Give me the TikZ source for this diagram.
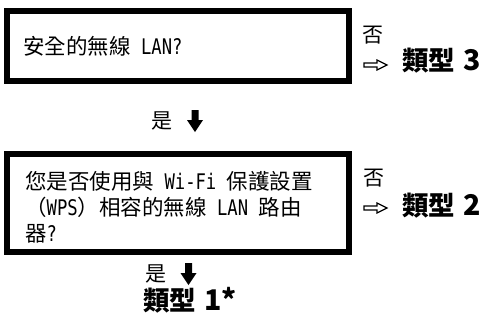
\documentclass[tikz,border=0pt]{standalone}
\usepackage{fontspec}
\setmainfont{Noto Sans CJK TC}
\newfontfamily\latfont[FakeStretch=0.8]{DejaVu Sans Mono}
\newcommand\lat[1]{{\latfont #1}}
\newcommand\digits[1]{\hspace{8pt}{\fontsize{28.5}{30}\selectfont #1}}
\begin{document}
\begin{tikzpicture}[x=1pt,y=-1pt,
  qbox/.style={draw,line width=6pt,minimum width=342pt,inner sep=0pt},
  qtext/.style={anchor=west,inner sep=0pt,align=left,font=\fontsize{21.5}{26}\selectfont},
  small/.style={anchor=west,inner sep=0pt,font=\fontsize{21}{22}\selectfont},
  result/.style={anchor=west,inner sep=0pt,font=\bfseries\fontsize{26.5}{28}\selectfont},
  whitearrow/.style={draw,line width=1.2pt,line join=miter},
  downarrow/.style={fill=black}]
\useasboundingbox (0,0) rectangle (480,322);
% question 1
\node[qbox,minimum height=70pt] (b1) at (178,46) {};
\node[qtext] (t1) at (23,46.5) {安全的無線\lat{ LAN?}};
\node[small] (n1) at (362,35) {否};
\coordinate (a1) at (364,65);
\draw[whitearrow] (a1) ++(0,-2) -- ++(13,0) -- ++(0,-3) -- ++(10,5) -- ++(-10,5) -- ++(0,-3) -- ++(-13,0) -- cycle;
\node[result] (r3) at (402,61) {類型\digits{3}};
% yes 1
\node[small] (y1) at (151,121) {是};
\coordinate (d1) at (195,110);
\fill[downarrow] (d1) ++(-3.5,0) -- ++(7,0) -- ++(0,10) -- ++(4.5,0) -- ++(-8,12) -- ++(-8,-12) -- ++(4.5,0) -- cycle;
% question 2
\node[qbox,minimum height=98pt] (b2) at (178,203) {};
\node[qtext] (t2) at (25,207) {您是否使用與\lat{ Wi-Fi }保護設置\\（\lat{WPS}）相容的無線\lat{ LAN }路由\\器\lat{?}};
\node[small] (n2) at (363,178) {否};
\coordinate (a2) at (364,208);
\draw[whitearrow] (a2) ++(0,-2) -- ++(13,0) -- ++(0,-3) -- ++(10,5) -- ++(-10,5) -- ++(0,-3) -- ++(-13,0) -- cycle;
\node[result] (r2) at (402,206) {類型\digits{2}};
% yes 2
\node[small] (y2) at (145,274) {是};
\coordinate (d2) at (188.5,263);
\fill[downarrow] (d2) ++(-3.5,0) -- ++(7,0) -- ++(0,10) -- ++(4.5,0) -- ++(-8,12) -- ++(-8,-12) -- ++(4.5,0) -- cycle;
\node[result] (r1) at (143,300) {類型\digits{1*}};
\end{tikzpicture}
\end{document}
